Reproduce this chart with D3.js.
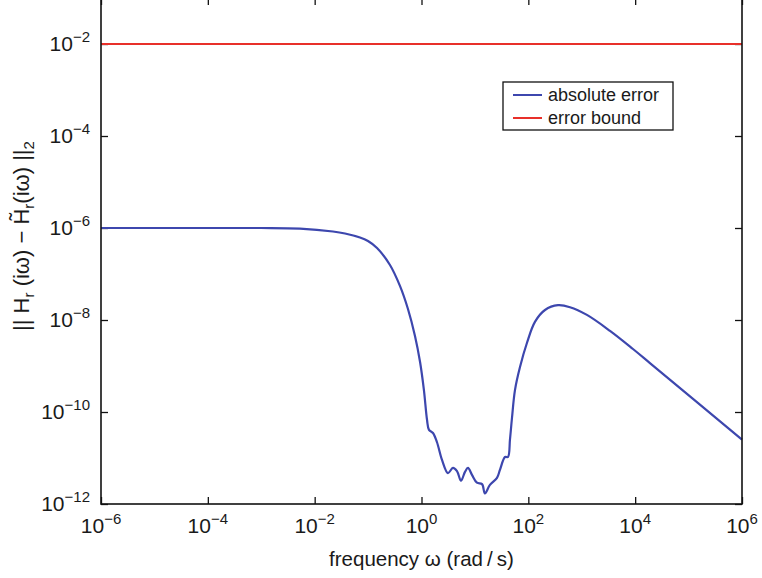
<!DOCTYPE html>
<html>
<head>
<meta charset="utf-8">
<script src="https://cdn.jsdelivr.net/npm/d3@7"></script>
<style>
  body { margin: 0; background: #fff; }
  svg text { font-family: "Liberation Sans", Arial, Helvetica, sans-serif; fill: #1a1a1a; }
</style>
</head>
<body>
<div class="grafico"></div>
<script>
var width = 762, height = 578;
var plot = { left: 101, right: 742, top: -2, bottom: 504 };

// frequency samples (rad/s)
var omega = [1e-6, 1e-4, 1e-3, 5.3e-3, 0.022, 0.037, 0.0706, 0.0995, 0.147, 0.257,
  0.395, 0.558, 0.755, 0.94, 1.11, 1.27, 1.38, 1.64, 1.95, 2.42,
  3.13, 3.88, 4.62, 5.48, 6.52, 7.41, 8.81, 10.9, 13.6, 15.4,
  19.1, 25.9, 29.4, 36.6, 41.6, 45.3, 49.4, 56.2, 69.8, 94.4,
  133, 205, 359, 603, 1250, 3380, 9100, 1.89e4, 1e6];
var absErr = [1e-6, 1e-6, 1e-6, 0.97e-6, 8.4e-7, 7.6e-7, 6.2e-7, 5.2e-7, 3.67e-7, 1.57e-7,
  5.5e-8, 1.73e-8, 4.5e-9, 1.22e-9, 3.0e-10, 6.7e-11, 4.1e-11, 3.5e-11, 2.2e-11, 9.1e-12,
  4.7e-12, 6.1e-12, 5.2e-12, 3.2e-12, 5.0e-12, 6.1e-12, 4.3e-12, 2.9e-12, 2.7e-12, 1.7e-12,
  2.6e-12, 3.7e-12, 5.5e-12, 1.05e-11, 1.05e-11, 2.5e-11, 7.4e-11, 3.0e-10, 9.5e-10, 3.2e-9,
  9.1e-9, 1.65e-8, 2.1e-8, 1.9e-8, 1.29e-8, 5.8e-9, 2.34e-9, 1.16e-9, 2.5e-11];
var boundOmega = [1e-6, 1e6];
var errBound = [1e-2, 1e-2];

var xTicks = [1e-6, 1e-4, 1e-2, 1e0, 1e2, 1e4, 1e6];
var yTicks = [1e-12, 1e-10, 1e-8, 1e-6, 1e-4, 1e-2];
var seriesNames = ["absolute error", "error bound"];
var colors = ["#3d47ae", "#e8302a"];

var svg = d3.select(".grafico").append("svg")
  .attr("width", width)
  .attr("height", height);

var x = d3.scaleLog().domain([1e-6, 1e6]).range([plot.left, plot.right]);
var y = d3.scaleLog().domain([1e-12, 1e-1]).range([plot.bottom, plot.top]);

function exp(d) { return Math.round(Math.log10(d)); }

// ticks (inward, on all four sides)
var tick = 7;
svg.append("g").attr("transform", "translate(0," + plot.bottom + ")")
  .call(d3.axisBottom(x).tickValues(xTicks).tickSize(-tick).tickFormat(""))
  .call(g => g.select(".domain").remove());
svg.append("g").attr("transform", "translate(0," + plot.top + ")")
  .call(d3.axisTop(x).tickValues(xTicks).tickSize(-tick).tickFormat(""))
  .call(g => g.select(".domain").remove());
svg.append("g").attr("transform", "translate(" + plot.left + ",0)")
  .call(d3.axisLeft(y).tickValues(yTicks).tickSize(-tick).tickFormat(""))
  .call(g => g.select(".domain").remove());
svg.append("g").attr("transform", "translate(" + plot.right + ",0)")
  .call(d3.axisRight(y).tickValues(yTicks).tickSize(-tick).tickFormat(""))
  .call(g => g.select(".domain").remove());
svg.selectAll(".tick line").attr("stroke", "#111").attr("stroke-width", 1.3);

// tick labels with superscripts
svg.append("g").selectAll("text")
  .data(xTicks)
  .enter().append("text")
  .attr("x", d => x(d))
  .attr("y", 533)
  .attr("text-anchor", "middle")
  .style("font-size", "21px")
  .each(function (d) {
    var t = d3.select(this);
    t.append("tspan").text("10");
    t.append("tspan").attr("dy", -9).style("font-size", "15px").text(String(exp(d)).replace("-", "\u2212"));
  });

svg.append("g").selectAll("text")
  .data(yTicks)
  .enter().append("text")
  .attr("x", 90)
  .attr("y", d => y(d) + 7)
  .attr("text-anchor", "end")
  .style("font-size", "21px")
  .each(function (d) {
    var t = d3.select(this);
    t.append("tspan").text("10");
    t.append("tspan").attr("dy", -9).style("font-size", "15px").text(String(exp(d)).replace("-", "\u2212"));
  });

// lines
var line = d3.line()
  .x(d => x(d[0]))
  .y(d => y(d[1]))
  .curve(d3.curveCatmullRom.alpha(0.5));

svg.append("path")
  .datum(d3.zip(boundOmega, errBound))
  .attr("d", line)
  .attr("fill", "none")
  .attr("stroke", colors[1])
  .attr("stroke-width", 2.2);

svg.append("path")
  .datum(d3.zip(omega, absErr))
  .attr("d", line)
  .attr("fill", "none")
  .attr("stroke", colors[0])
  .attr("stroke-width", 2.2);

// frame
svg.append("rect")
  .attr("x", plot.left)
  .attr("y", plot.top)
  .attr("width", plot.right - plot.left)
  .attr("height", plot.bottom - plot.top)
  .attr("fill", "none")
  .attr("stroke", "#111")
  .attr("stroke-width", 1.6);

// axis labels
svg.append("text")
  .attr("x", (plot.left + plot.right) / 2)
  .attr("y", 566)
  .attr("text-anchor", "middle")
  .style("font-size", "20.5px")
  .text("frequency \u03c9 (rad\u2009/\u2009s)");

var yl = svg.append("text")
  .attr("transform", "translate(29,236) rotate(-90)")
  .attr("text-anchor", "middle")
  .style("font-size", "22px");
yl.append("tspan").text("|| H");
yl.append("tspan").attr("dy", 5).style("font-size", "15px").text("r");
yl.append("tspan").attr("dy", -5).text(" (i\u03c9) \u2212 H\u0303");
yl.append("tspan").attr("dy", 5).style("font-size", "15px").text("r");
yl.append("tspan").attr("dy", -5).text("(i\u03c9) ||");
yl.append("tspan").attr("dy", 5).style("font-size", "15px").text("2");

// legend
var legend = svg.append("g");
legend.append("rect")
  .attr("x", 503).attr("y", 82)
  .attr("width", 170).attr("height", 48)
  .attr("fill", "#fff")
  .attr("stroke", "#111")
  .attr("stroke-width", 1.3);
seriesNames.forEach(function (name, i) {
  var ly = 95 + i * 23;
  legend.append("line")
    .attr("x1", 513).attr("x2", 542)
    .attr("y1", ly).attr("y2", ly)
    .attr("stroke", colors[i])
    .attr("stroke-width", 2);
  legend.append("text")
    .attr("x", 548)
    .attr("y", ly + 6)
    .style("font-size", "18px")
    .text(name);
});
</script>
</body>
</html>
